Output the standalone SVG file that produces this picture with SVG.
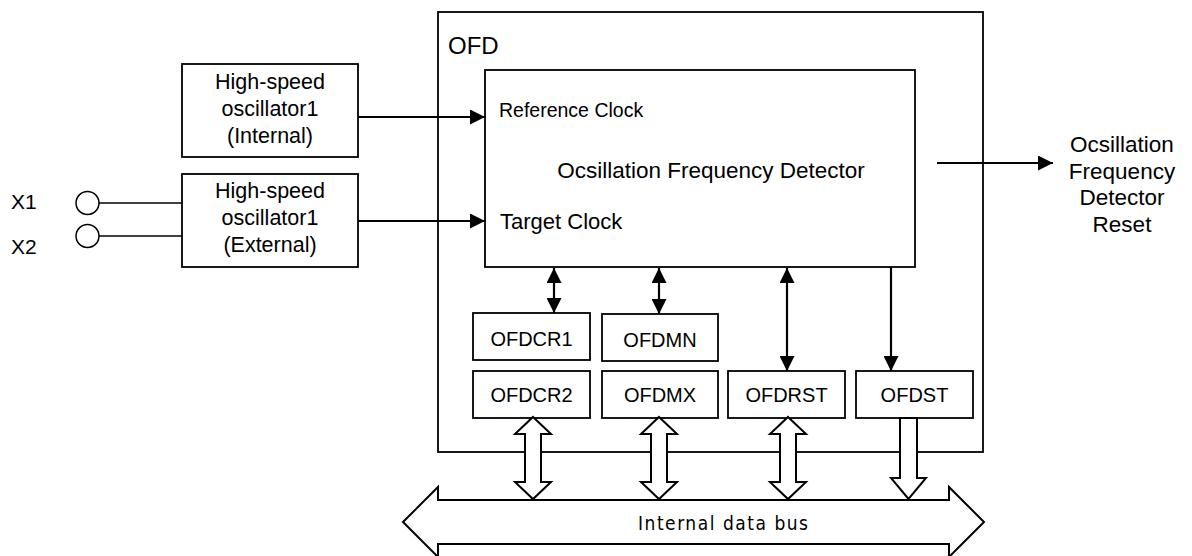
<svg xmlns="http://www.w3.org/2000/svg" width="1192" height="556" viewBox="0 0 1192 556">
<style>
.box{fill:#fff;stroke:#000;stroke-width:1.8}
.t{font-family:"Liberation Sans",Arial,sans-serif;fill:#000}
.bt{font-family:"Liberation Sans Narrow","DejaVu Sans Condensed","Liberation Sans",sans-serif;fill:#000}
.ln{stroke:#000;stroke-width:2.2;fill:none}
.thin{stroke:#000;stroke-width:1.5;fill:none}
.hollow{fill:#fff;stroke:#000;stroke-width:2}
</style>
<defs>
<marker id="ah" markerUnits="userSpaceOnUse" markerWidth="15" markerHeight="15" refX="15" refY="7.5" orient="auto-start-reverse" viewBox="0 0 15 15">
<path d="M0,0 L15,7.5 L0,15 z" fill="#000"/>
</marker>
</defs>
<rect width="1192" height="556" fill="#fff"/>

<g id="ofd">
<rect class="box" x="438" y="12" width="545" height="440"/>
<text class="t" x="448" y="54" font-size="24">OFD</text>
</g>

<g id="detector">
<rect class="box" x="485" y="70" width="430" height="197"/>
<text class="t" x="499" y="117" font-size="19.5">Reference Clock</text>
<text class="t" x="711" y="178" font-size="22.5" text-anchor="middle">Ocsillation Frequency Detector</text>
<text class="t" x="500" y="229" font-size="22">Target Clock</text>
</g>

<g id="osc-internal">
<rect class="box" x="182" y="64" width="176" height="93"/>
<text class="t" font-size="21.5" text-anchor="middle"><tspan x="270" y="89">High-speed</tspan><tspan x="270" y="116">oscillator1</tspan><tspan x="270" y="143">(Internal)</tspan></text>
</g>

<g id="osc-external">
<rect class="box" x="182" y="174" width="176" height="93"/>
<text class="t" font-size="21.5" text-anchor="middle"><tspan x="270" y="198">High-speed</tspan><tspan x="270" y="225">oscillator1</tspan><tspan x="270" y="252">(External)</tspan></text>
</g>

<g id="x1">
<circle class="thin" cx="87.5" cy="203" r="11.5"/>
<text class="t" x="11" y="209" font-size="21">X1</text>
</g>
<g id="x2">
<circle class="thin" cx="87.5" cy="236" r="11.5"/>
<text class="t" x="11" y="254" font-size="21">X2</text>
</g>

<g id="ofdcr1"><rect class="box" x="473" y="313" width="117" height="47"/><text class="t" x="531.5" y="346" font-size="20" text-anchor="middle">OFDCR1</text></g>
<g id="ofdmn"><rect class="box" x="602" y="314" width="116" height="47"/><text class="t" x="660" y="347" font-size="20" text-anchor="middle">OFDMN</text></g>
<g id="ofdcr2"><rect class="box" x="473" y="371" width="117" height="47"/><text class="t" x="531.5" y="402" font-size="20" text-anchor="middle">OFDCR2</text></g>
<g id="ofdmx"><rect class="box" x="602" y="371" width="116" height="47"/><text class="t" x="660" y="402" font-size="20" text-anchor="middle">OFDMX</text></g>
<g id="ofdrst"><rect class="box" x="728" y="371" width="117" height="47"/><text class="t" x="786.5" y="402" font-size="20" text-anchor="middle">OFDRST</text></g>
<g id="ofdst"><rect class="box" x="856" y="371" width="117" height="47"/><text class="t" x="914.5" y="402" font-size="20" text-anchor="middle">OFDST</text></g>

<g id="reset-label">
<text class="t" font-size="22.5" text-anchor="middle"><tspan x="1122" y="152">Ocsillation</tspan><tspan x="1122" y="178.5">Frequency</tspan><tspan x="1122" y="205">Detector</tspan><tspan x="1122" y="231.5">Reset</tspan></text>
</g>

<g id="bus">
<polygon class="hollow" points="403,522 438,487 438,500 949,500 949,487 984,522 949,557 949,544 438,544 438,557"/>
<text class="bt" x="638" y="530" font-size="19" textLength="170" lengthAdjust="spacing">Internal data bus</text>
</g>

<g id="connectors">
<line class="thin" x1="99" y1="203" x2="182" y2="203"/>
<line class="thin" x1="99" y1="236" x2="182" y2="236"/>
<line class="ln" x1="358" y1="117" x2="485" y2="117" marker-end="url(#ah)"/>
<line class="ln" x1="358" y1="221" x2="485" y2="221" marker-end="url(#ah)"/>
<line class="ln" x1="937" y1="163" x2="1053" y2="163" marker-end="url(#ah)"/>
<line class="ln" x1="554" y1="268" x2="554" y2="313" marker-start="url(#ah)" marker-end="url(#ah)"/>
<line class="ln" x1="659" y1="268" x2="659" y2="314" marker-start="url(#ah)" marker-end="url(#ah)"/>
<line class="ln" x1="787" y1="268" x2="787" y2="371" marker-start="url(#ah)" marker-end="url(#ah)"/>
<line class="ln" x1="891" y1="267" x2="891" y2="371" marker-end="url(#ah)"/>
<polygon class="hollow" points="533,417 551,434 541,434 541,482 551,482 533,499 515,482 525,482 525,434 515,434"/>
<polygon class="hollow" points="659,417 677,434 667,434 667,482 677,482 659,499 641,482 651,482 651,434 641,434"/>
<polygon class="hollow" points="788,417 806,434 796,434 796,482 806,482 788,499 770,482 780,482 780,434 770,434"/>
<polygon class="hollow" points="900,418 917,418 917,478 926,478 908.5,499 891,478 900,478"/>
</g>
</svg>
